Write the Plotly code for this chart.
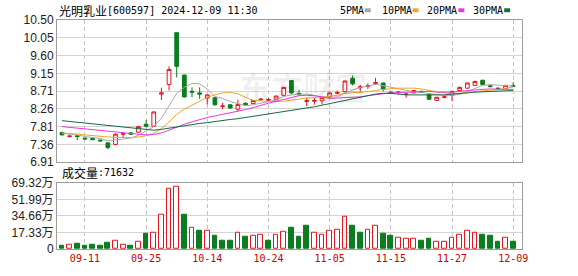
import plotly.graph_objects as go

dates = ["09-06","09-09","09-10","09-11","09-12","09-13","09-18","09-19","09-20","09-23",
         "09-24","09-25","09-26","09-27","09-30","10-08","10-09","10-10","10-11","10-14",
         "10-15","10-16","10-17","10-18","10-21","10-22","10-23","10-24","10-25","10-28",
         "10-29","10-30","10-31","11-01","11-04","11-05","11-06","11-07","11-08","11-11",
         "11-12","11-13","11-14","11-15","11-18","11-19","11-20","11-21","11-22","11-25",
         "11-26","11-27","11-28","11-29","12-02","12-03","12-04","12-05","12-06","12-09"]

opens = [7.66,7.56,7.58,7.52,7.51,7.47,7.40,7.36,7.62,7.65,
         7.67,7.87,7.82,8.63,8.87,10.18,9.11,8.70,8.66,8.53,
         8.54,8.32,8.36,8.25,8.40,8.39,8.49,8.48,8.50,8.60,
         8.97,8.65,8.45,8.45,8.46,8.56,8.65,8.69,9.03,8.79,
         8.82,8.90,8.91,8.68,8.67,8.62,8.66,8.70,8.62,8.47,
         8.55,8.60,8.72,8.78,8.85,8.98,8.84,8.78,8.77,8.84]
highs = [7.68,7.60,7.59,7.53,7.52,7.48,7.41,7.64,7.66,7.67,
         7.83,7.98,8.19,8.79,9.33,10.18,9.12,8.80,8.80,8.63,
         8.55,8.41,8.37,8.49,8.42,8.48,8.53,8.53,8.59,8.81,
         8.98,8.74,8.54,8.53,8.55,8.67,8.72,8.97,9.10,8.87,
         8.90,9.04,8.92,8.70,8.70,8.66,8.73,8.72,8.64,8.56,
         8.59,8.71,8.82,8.92,8.97,8.99,8.87,8.80,8.86,8.93]
lows = [7.59,7.53,7.47,7.48,7.47,7.43,7.24,7.34,7.52,7.60,
        7.66,7.79,7.80,8.48,8.72,9.05,8.54,8.55,8.51,8.37,
        8.34,8.25,8.26,8.19,8.34,8.38,8.46,8.46,8.49,8.57,
        8.62,8.58,8.33,8.36,8.37,8.55,8.62,8.68,8.85,8.69,
        8.76,8.86,8.70,8.63,8.62,8.54,8.65,8.66,8.48,8.46,
        8.52,8.45,8.70,8.77,8.84,8.86,8.80,8.75,8.76,8.81]
closes = [7.60,7.57,7.56,7.50,7.48,7.45,7.28,7.62,7.63,7.62,
          7.81,7.82,8.18,8.66,9.25,9.33,8.56,8.68,8.63,8.61,
          8.36,8.33,8.28,8.37,8.36,8.47,8.50,8.49,8.58,8.80,
          8.66,8.63,8.46,8.47,8.54,8.66,8.67,8.96,8.89,8.81,
          8.84,8.92,8.75,8.65,8.68,8.63,8.72,8.68,8.50,8.55,
          8.56,8.70,8.80,8.91,8.95,8.87,8.82,8.77,8.85,8.83]

# volume in 万手
volume = [3.0,4.1,5.1,3.0,4.1,3.0,6.1,8.8,4.1,3.0,
          7.8,16.2,17.3,35.5,62.9,65.0,35.5,22.7,19.3,19.3,
          14.2,9.1,9.1,16.9,13.2,14.2,15.2,9.1,15.2,18.3,
          22.7,12.5,24.7,16.9,15.2,19.3,20.3,33.5,24.4,17.3,
          20.3,24.4,16.2,14.2,12.2,11.2,11.2,9.1,11.2,7.1,
          8.1,12.2,15.2,19.3,17.3,15.2,14.2,8.1,12.2,7.1632]
vol_up = [0,1,0,0,0,0,0,1,1,0,
          1,0,1,1,1,1,0,1,0,1,
          0,0,0,1,0,1,1,0,1,1,
          0,0,0,1,1,1,1,1,0,0,
          1,1,0,0,1,1,1,0,0,1,
          1,1,1,1,1,0,0,0,1,0]

ma5 = [7.64,7.62,7.60,7.56,7.54,7.51,7.45,7.47,7.49,7.52,
       7.59,7.70,7.81,8.02,8.34,8.65,8.80,8.90,8.89,8.76,
       8.57,8.52,8.44,8.39,8.34,8.36,8.40,8.44,8.48,8.57,
       8.61,8.63,8.63,8.60,8.55,8.55,8.56,8.66,8.74,8.80,
       8.83,8.88,8.84,8.80,8.77,8.73,8.69,8.67,8.64,8.62,
       8.60,8.60,8.62,8.70,8.78,8.85,8.87,8.86,8.85,8.83]
ma10 = [7.65,7.64,7.62,7.60,7.58,7.56,7.55,7.54,7.53,7.53,
        7.55,7.58,7.64,7.76,7.93,8.12,8.25,8.35,8.45,8.55,
        8.61,8.66,8.67,8.64,8.55,8.47,8.46,8.44,8.44,8.45,
        8.48,8.51,8.53,8.54,8.56,8.58,8.60,8.64,8.67,8.67,
        8.69,8.72,8.75,8.77,8.78,8.78,8.78,8.76,8.72,8.69,
        8.66,8.64,8.65,8.67,8.70,8.72,8.73,8.74,8.78,8.81]
ma20 = [7.81,7.79,7.77,7.75,7.73,7.71,7.69,7.67,7.65,7.63,
        7.61,7.60,7.61,7.65,7.72,7.80,7.87,7.93,7.99,8.04,
        8.08,8.12,8.15,8.20,8.24,8.29,8.35,8.40,8.45,8.50,
        8.55,8.59,8.60,8.59,8.56,8.52,8.53,8.54,8.55,8.56,
        8.59,8.62,8.64,8.66,8.67,8.68,8.69,8.70,8.70,8.68,
        8.68,8.68,8.70,8.72,8.74,8.75,8.76,8.75,8.75,8.75]
ma30 = [7.96,7.94,7.92,7.90,7.88,7.86,7.84,7.82,7.80,7.78,
        7.76,7.74,7.72,7.74,7.77,7.81,7.84,7.86,7.89,7.91,
        7.94,7.96,7.99,8.01,8.04,8.07,8.10,8.12,8.15,8.18,
        8.22,8.25,8.28,8.31,8.35,8.39,8.43,8.48,8.52,8.56,
        8.59,8.63,8.65,8.65,8.63,8.61,8.61,8.61,8.61,8.61,
        8.61,8.63,8.64,8.66,8.68,8.69,8.70,8.71,8.72,8.72]

price_tick_labels = ["6.91","7.36","7.81","8.26","8.71","9.15","9.60","10.05","10.50"]
price_min, price_max = 6.91, 10.50
vol_tick_labels = ["0","17.33万","34.66万","51.99万","69.32万"]
vol_max = 69.32
date_ticks = ["09-11","09-25","10-14","10-24","11-05","11-15","11-27","12-09"]

title_name = "光明乳业"
title_rest = "[600597] 2024-12-09 11:30"
vol_title = "成交量"
vol_last = ":71632"
ma_names = ["5PMA", "10PMA", "20PMA", "30PMA"]

RED = "#e3141c"
GREEN = "#0b7d1e"
MA_COLORS = ["#a8a8a8", "#f0a62c", "#e838e0", "#146b3e"]
GRID = "#d4d4d4"
VGRID = "#c4c4c4"
BORDER = "#9c9c9c"

W, H = 578, 276
ML, MR, MT, MB = 55, 56, 20, 21
plot_w = W - ML - MR
plot_h = H - MT - MB
price_bottom_px = 166
vol_top_px = 187


def px_x(px):
    return (px - ML) / plot_w


def px_y(py):
    return (H - MB - py) / plot_h


idx = list(range(len(dates)))
n_price_ticks = len(price_tick_labels)
price_tickvals = [price_min + k * (price_max - price_min) / (n_price_ticks - 1) for k in range(n_price_ticks)]
vol_tickvals = [k * vol_max / (len(vol_tick_labels) - 1) for k in range(len(vol_tick_labels))]
date_tickvals = [dates.index(d) for d in date_ticks]

fig = go.Figure()

fig.add_trace(go.Candlestick(
    x=idx, open=opens, high=highs, low=lows, close=closes,
    increasing=dict(line=dict(color=RED, width=1), fillcolor="white"),
    decreasing=dict(line=dict(color=GREEN, width=1), fillcolor=GREEN),
    whiskerwidth=0, xaxis="x", yaxis="y", showlegend=False, hoverinfo="skip",
))

for series, color in zip([ma5, ma10, ma20, ma30], MA_COLORS):
    fig.add_trace(go.Scatter(
        x=idx, y=series, mode="lines", line=dict(color=color, width=1),
        xaxis="x", yaxis="y", showlegend=False, hoverinfo="skip",
    ))

fig.add_trace(go.Bar(
    x=idx, y=volume, width=0.62,
    marker=dict(color=["white" if u else GREEN for u in vol_up],
                line=dict(color=[RED if u else GREEN for u in vol_up], width=1)),
    xaxis="x2", yaxis="y2", showlegend=False, hoverinfo="skip",
))

xr = [-0.65, len(dates) + 0.15]
common_x = dict(range=xr, tickvals=date_tickvals, showgrid=True, gridcolor=VGRID,
                griddash="4px,3px", gridwidth=1, zeroline=False, showline=True,
                mirror=True, linecolor=BORDER, linewidth=1, ticks="", fixedrange=True)

fig.update_layout(
    width=W, height=H,
    margin=dict(l=ML, r=MR, t=MT, b=MB, pad=0),
    paper_bgcolor="white", plot_bgcolor="white",
    showlegend=False,
    xaxis=dict(domain=[0, 1], anchor="y", showticklabels=False,
               rangeslider=dict(visible=False), **common_x),
    xaxis2=dict(domain=[0, 1], anchor="y2", matches="x", ticktext=date_ticks,
                showticklabels=True,
                tickfont=dict(family="DejaVu Sans Mono", size=10, color="#cc0000"),
                **common_x),
    yaxis=dict(domain=[px_y(price_bottom_px), 1], range=[price_min, price_max],
               tickvals=price_tickvals, ticktext=price_tick_labels,
               showgrid=True, gridcolor=GRID, gridwidth=1, zeroline=False,
               showline=True, mirror=True, linecolor=BORDER, ticks="",
               tickfont=dict(family="Liberation Sans", size=12, color="#222")),
    yaxis2=dict(domain=[0, px_y(vol_top_px)], range=[0, vol_max],
                tickvals=vol_tickvals, ticktext=vol_tick_labels,
                showgrid=True, gridcolor=GRID, gridwidth=1, zeroline=False,
                showline=True, mirror=True, linecolor=BORDER, ticks="",
                tickfont=dict(family="Liberation Sans, Noto Sans CJK SC", size=12, color="#222")),
    bargap=0,
)

ann = []
# watermark
ann.append(dict(x=31.5, y=8.83, xref="x", yref="y", text="东方财富", showarrow=False,
                font=dict(family="Noto Sans CJK SC", size=32, color="rgba(0,0,0,0.06)", weight="bold")))
# title
ann.append(dict(x=px_x(55), y=px_y(10), xref="paper", yref="paper", text=title_name,
                showarrow=False, xanchor="left", yanchor="middle",
                font=dict(family="Noto Sans CJK SC", size=12, color="#000")))
ann.append(dict(x=px_x(103), y=px_y(10), xref="paper", yref="paper", text=title_rest,
                showarrow=False, xanchor="left", yanchor="middle",
                font=dict(family="DejaVu Sans Mono", size=10, color="#000")))
# volume caption
ann.append(dict(x=px_x(58), y=px_y(177), xref="paper", yref="paper", text=vol_title,
                showarrow=False, xanchor="left", yanchor="middle",
                font=dict(family="Noto Sans CJK SC", size=12, color="#000")))
ann.append(dict(x=px_x(94), y=px_y(177), xref="paper", yref="paper", text=vol_last,
                showarrow=False, xanchor="left", yanchor="middle",
                font=dict(family="DejaVu Sans Mono", size=10, color="#000")))

shapes = []
legend_x = [337, 379, 425, 471]
for name, color, lx in zip(ma_names, MA_COLORS, legend_x):
    ann.append(dict(x=px_x(lx), y=px_y(10), xref="paper", yref="paper", text=name,
                    showarrow=False, xanchor="left", yanchor="middle",
                    font=dict(family="DejaVu Sans Mono", size=10, color="#000")))
    sx = lx + len(name) * 6.02 + 3
    shapes.append(dict(type="rect", xref="paper", yref="paper",
                       x0=px_x(sx), x1=px_x(sx + 6), y0=px_y(12), y1=px_y(8),
                       fillcolor=color, line=dict(width=0)))

fig.update_layout(annotations=ann, shapes=shapes)

fig.write_html("out.html")
